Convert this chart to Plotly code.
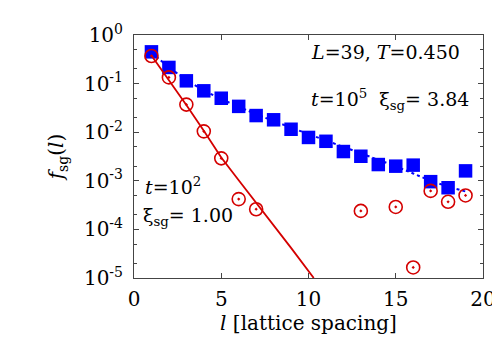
import plotly.graph_objects as go

l_vals = list(range(1, 20))
f_t1e5 = [0.45, 0.215, 0.114, 0.071, 0.050, 0.034, 0.022, 0.018, 0.0115, 0.0078,
          0.0065, 0.0040, 0.0032, 0.00216, 0.0020, 0.0021, 0.00096, 0.00072, 0.0016]

l_t1e2 = [1, 2, 3, 4, 5, 6, 7, 13, 15, 16, 17, 18, 19]
f_t1e2 = [0.37, 0.134, 0.037, 0.0104, 0.0029, 0.00042, 0.00026,
          0.00024, 0.00029, 0.0000165, 0.00062, 0.00037, 0.00050]

fit_red_l = [1, 2, 3, 4, 5, 6, 7, 8, 9, 10.3]
fit_red_f = [10**-0.42, 10**-0.92, 10**-1.44, 10**-1.97, 10**-2.52,
             10**-2.99, 10**-3.45, 10**-3.91, 10**-4.38, 10**-5.0]

fit_blue_l = list(range(1, 20))
fit_blue_f = [10**v for v in [-0.37, -0.66, -0.93, -1.14, -1.32, -1.48, -1.63, -1.77,
                              -1.91, -2.04, -2.17, -2.30, -2.43, -2.56, -2.70, -2.85,
                              -3.00, -3.12, -3.22]]

y_tickvals = [1, 0.1, 0.01, 0.001, 0.0001, 0.00001]
y_ticktext = ["10<sup>0</sup>", "10<sup>-1</sup>", "10<sup>-2</sup>",
              "10<sup>-3</sup>", "10<sup>-4</sup>", "10<sup>-5</sup>"]
x_tickvals = [0, 5, 10, 15, 20]

BLUE = "#0000ff"
RED = "#d40000"
FONT = "DejaVu Serif"

fig = go.Figure()
fig.add_trace(go.Scatter(x=fit_blue_l, y=fit_blue_f, mode="lines",
                         line=dict(color=BLUE, width=2, dash="dot"), showlegend=False))
fig.add_trace(go.Scatter(x=l_vals, y=f_t1e5, mode="markers",
                         marker=dict(symbol="square", size=13.5, color=BLUE,
                                     line=dict(width=0)), showlegend=False))
fig.add_trace(go.Scatter(x=fit_red_l, y=fit_red_f, mode="lines",
                         line=dict(color=RED, width=1.8), showlegend=False))
fig.add_trace(go.Scatter(x=l_t1e2, y=f_t1e2, mode="markers",
                         marker=dict(symbol="circle-open-dot", size=13, color=RED,
                                     line=dict(width=1.6, color=RED)), showlegend=False))

fig.update_layout(
    width=500, height=350,
    margin=dict(l=126, r=17, t=27, b=80),
    plot_bgcolor="white", paper_bgcolor="white",
    font=dict(family=FONT, size=20, color="black"),
    showlegend=False,
)
fig.update_xaxes(range=[0, 20], tickvals=x_tickvals, ticks="inside", ticklen=5,
                 tickcolor="#444", showline=True, linecolor="#444", linewidth=1,
                 mirror="ticks", showgrid=False, zeroline=False,
                 ticklabelstandoff=3, tickfont=dict(size=20),
                 title=dict(text="<i>l</i> [lattice spacing]", standoff=0,
                            font=dict(size=20)))
fig.update_yaxes(type="log", range=[-5, 0], tickvals=y_tickvals, ticktext=y_ticktext,
                 ticks="inside", ticklen=5, tickcolor="#444", showline=True,
                 linecolor="#444", linewidth=1, mirror="ticks", showgrid=False,
                 zeroline=False, ticklabelstandoff=6, tickfont=dict(size=20),
                 minor=dict(tickvals=[2e-5, 5e-5, 2e-4, 5e-4, 2e-3, 5e-3, 2e-2, 5e-2, 0.2, 0.5],
                            ticks="inside", ticklen=3, tickcolor="#444"),
                 title=dict(text="<i>f</i><sub>sg</sub>(<i>l</i>)", standoff=14,
                            font=dict(size=20)))

ANN = dict(family=FONT, size=19)
fig.add_annotation(xref="paper", yref="paper", x=0.5, y=0.93, xanchor="left",
                   yanchor="middle", showarrow=False, font=ANN,
                   text="<i>L</i>=39, <i>T</i>=0.450")
fig.add_annotation(xref="paper", yref="paper", x=0.5, y=0.735, xanchor="left",
                   yanchor="middle", showarrow=False, font=ANN,
                   text="<i>t</i>=10<sup>5</sup>  ξ<sub>sg</sub>= 3.84")
fig.add_annotation(xref="paper", yref="paper", x=0.025, y=0.38, xanchor="left",
                   yanchor="middle", showarrow=False, font=ANN,
                   text="<i>t</i>=10<sup>2</sup>")
fig.add_annotation(xref="paper", yref="paper", x=0.02, y=0.255, xanchor="left",
                   yanchor="middle", showarrow=False, font=ANN,
                   text="ξ<sub>sg</sub>= 1.00")

fig.write_html("out.html")
